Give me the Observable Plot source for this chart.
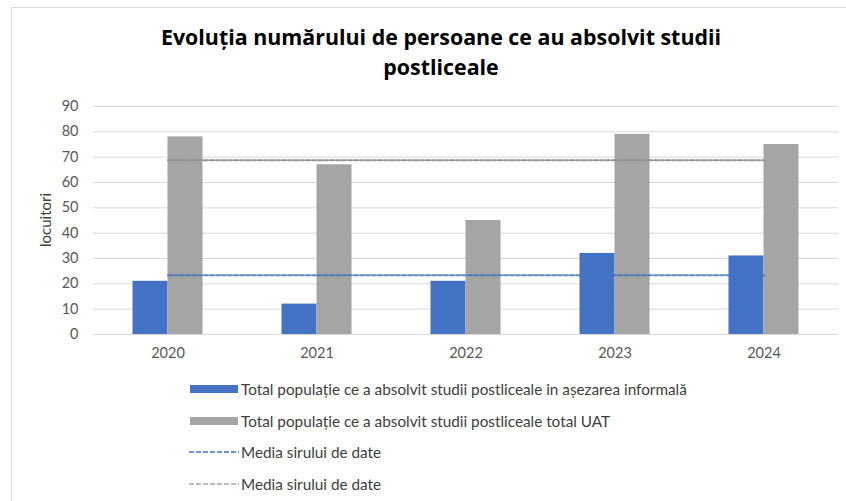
<!DOCTYPE html>
<html><head><meta charset="utf-8">
<script src="https://cdn.jsdelivr.net/npm/d3@7"></script>
<script src="https://cdn.jsdelivr.net/npm/@observablehq/plot@0.6"></script>
<style>
body{margin:0;background:#fff;font-family:Lato,"Open Sans",sans-serif}
#wrap{position:relative;width:846px;height:501px;overflow:hidden;background:#fff}
#chart{position:absolute;left:0;top:0}
.frame{position:absolute;left:11px;top:7px;width:900px;height:600px;border-left:1px solid #d9d9d9;border-top:1px solid #d9d9d9}
.title{position:absolute;left:0;top:22px;width:882px;text-align:center;font-family:"Open Sans",sans-serif;font-weight:bold;font-size:21.4px;line-height:30px;color:#000}
.ylab{position:absolute;left:45px;top:220px;transform:translate(-50%,-50%) rotate(-90deg);font-size:15px;color:#404040;white-space:nowrap}
.legend{position:absolute;left:189px;top:373px;font-size:15.3px;color:#404040}
.legend .row{height:31.7px;display:flex;align-items:center;white-space:nowrap}
.legend svg{margin-right:2px}
</style></head><body>
<div id="wrap">
  <div id="chart"></div>
  <div class="frame"></div>
  <div class="title">Evoluția numărului de persoane ce au absolvit studii<br>postliceale</div>
  <div class="ylab">locuitori</div>
  <div class="legend" id="legend"></div>
</div>
<script>
const years = [2020, 2021, 2022, 2023, 2024];
const informal = [21, 12, 21, 32, 31];
const totalUAT = [78, 67, 45, 79, 75];
const yTicks = [0, 10, 20, 30, 40, 50, 60, 70, 80, 90];
const legendLabels = [
  "Total populație ce a absolvit studii postliceale in așezarea informală",
  "Total populație ce a absolvit studii postliceale total UAT",
  "Media sirului de date",
  "Media sirului de date"
];

const BLUE = "#4472C4", GRAY = "#A5A5A5", GRAY_LINE = "#939393";
const bw = 0.235;
const meanInf = d3.mean(informal);
const meanTot = d3.mean(totalUAT);
const infData = years.map((y, i) => ({year: y, v: informal[i]}));
const totData = years.map((y, i) => ({year: y, v: totalUAT[i]}));
const meanInfData = years.map(y => ({year: y, v: meanInf}));
const meanTotData = years.map(y => ({year: y, v: meanTot}));

const plot = Plot.plot({
  width: 846,
  height: 370,
  marginTop: 106,
  marginBottom: 36,
  marginLeft: 93,
  marginRight: 8,
  style: {background: "transparent", fontSize: "14.5px", fontFamily: "Lato, 'Open Sans', sans-serif", color: "#595959"},
  x: {domain: [2019.5, 2024.5], ticks: years, tickFormat: d => String(d), tickSize: 0, tickPadding: 13, label: null},
  y: {domain: [0, 90], ticks: yTicks, tickSize: 0, tickPadding: 15, label: null},
  marks: [
    Plot.ruleY(yTicks, {stroke: "#d9d9d9", strokeWidth: 1}),
    Plot.rect(infData, {x1: d => d.year - bw, x2: d => d.year, y1: 0, y2: "v", fill: BLUE}),
    Plot.rect(totData, {x1: d => d.year, x2: d => d.year + bw, y1: 0, y2: "v", fill: GRAY}),
    Plot.line(meanInfData, {x: "year", y: "v", stroke: BLUE, strokeWidth: 2, strokeDasharray: "4,2", strokeOpacity: 0.85}),
    Plot.line(meanTotData, {x: "year", y: "v", stroke: GRAY_LINE, strokeWidth: 2, strokeDasharray: "4,2"})
  ]
});
document.getElementById("chart").appendChild(plot);

const leg = document.getElementById("legend");
const swatches = [
  `<rect x="1" y="0" width="48" height="8" fill="${BLUE}"/>`,
  `<rect x="1" y="0" width="48" height="8" fill="${GRAY}"/>`,
  `<line x1="0" x2="50" y1="4" y2="4" stroke="${BLUE}" stroke-width="1.6" stroke-dasharray="5,2"/>`,
  `<line x1="0" x2="50" y1="4" y2="4" stroke="${GRAY}" stroke-width="1.6" stroke-dasharray="5,2"/>`
];
legendLabels.forEach((lab, i) => {
  const row = document.createElement("div");
  row.className = "row";
  row.innerHTML = `<svg width="50" height="8">${swatches[i]}</svg><span>${lab}</span>`;
  leg.appendChild(row);
});
</script>
</body></html>
